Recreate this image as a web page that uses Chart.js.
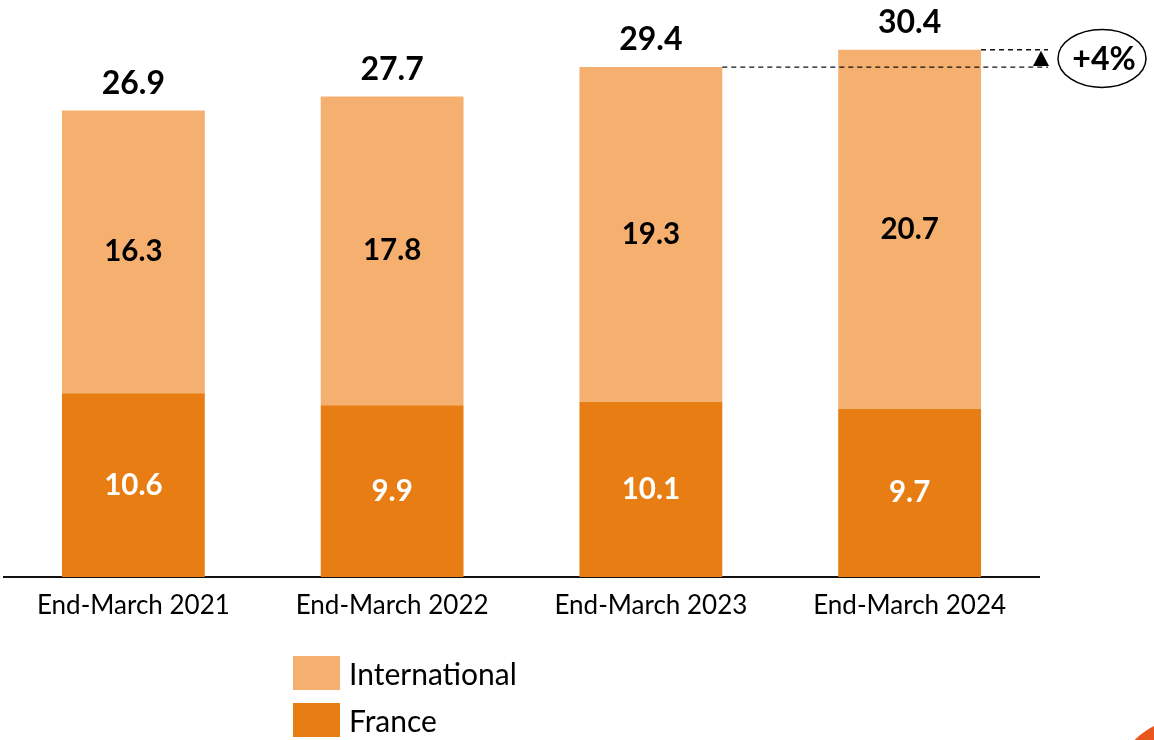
<!DOCTYPE html>
<html>
<head>
<meta charset="utf-8">
<script src="https://cdn.jsdelivr.net/npm/chart.js@4"></script>
<style>
  body { margin: 0; background: #fff; }
  #wrap { width: 1154px; height: 740px; }
</style>
</head>
<body>
<div id="wrap"><canvas id="chart" width="1154" height="740"></canvas></div>
<script>
const categories = ["End-March 2021", "End-March 2022", "End-March 2023", "End-March 2024"];
const france = [10.6, 9.9, 10.1, 9.7];
const international = [16.3, 17.8, 19.3, 20.7];
const totals = [26.9, 27.7, 29.4, 30.4];
const growthLabel = "+4%";

const FONT = "Lato, 'Open Sans', sans-serif";
const lightOrange = "#F5B070";
const darkOrange = "#E87E13";

// value labels inside segments and totals above bars
const labelsPlugin = {
    id: "labels",
    afterDatasetsDraw(chart) {
        const ctx = chart.ctx;
        ctx.save();
        ctx.textAlign = "center";
        ctx.textBaseline = "middle";
        chart.data.datasets.forEach((ds, i) => {
            const meta = chart.getDatasetMeta(i);
            meta.data.forEach((bar, j) => {
                const mid = (bar.y + bar.base) / 2;
                ctx.font = "bold 29.5px " + FONT;
                ctx.fillStyle = i === 0 ? "#ffffff" : "#000000";
                ctx.fillText(ds.data[j].toFixed(1), bar.x, mid);
            });
        });
        const top = chart.getDatasetMeta(1);
        top.data.forEach((bar, j) => {
            ctx.font = "bold 32px " + FONT;
            ctx.fillStyle = "#000000";
            ctx.fillText(totals[j].toFixed(1), bar.x, bar.y - 27);
        });
        ctx.restore();
    }
};

// dashed comparison lines, arrow and +4% bubble
const growthPlugin = {
    id: "growth",
    afterDraw(chart) {
        const ctx = chart.ctx;
        const meta = chart.getDatasetMeta(1);
        const b3 = meta.data[2];
        const b4 = meta.data[3];
        const w3 = b3.width / 2;
        const w4 = b4.width / 2;
        const endX = 1048;
        ctx.save();
        ctx.strokeStyle = "#111";
        ctx.lineWidth = 1.3;
        ctx.setLineDash([5, 4]);
        ctx.beginPath();
        ctx.moveTo(b3.x + w3, b3.y);
        ctx.lineTo(endX, b3.y);
        ctx.moveTo(b4.x + w4, b4.y);
        ctx.lineTo(endX, b4.y);
        ctx.stroke();
        ctx.setLineDash([]);
        // arrow head
        const ax = 1041;
        ctx.fillStyle = "#000";
        ctx.beginPath();
        ctx.moveTo(ax, b4.y + 1);
        ctx.lineTo(ax - 8, b3.y - 1);
        ctx.lineTo(ax + 8, b3.y - 1);
        ctx.closePath();
        ctx.fill();
        // ellipse
        const cx = 1102, cy = (b3.y + b4.y) / 2;
        ctx.lineWidth = 1.5;
        ctx.strokeStyle = "#000";
        ctx.beginPath();
        ctx.ellipse(cx, cy, 44, 29, 0, 0, Math.PI * 2);
        ctx.stroke();
        ctx.font = "bold 32px " + FONT;
        ctx.textAlign = "center";
        ctx.textBaseline = "middle";
        ctx.fillText(growthLabel, cx + 2, cy + 1);
        ctx.restore();
    }
};

// legend stacked vertically below the axis, plus the corner decoration
const legendPlugin = {
    id: "vlegend",
    afterDraw(chart) {
        const ctx = chart.ctx;
        ctx.save();
        const items = [
            { label: "International", color: lightOrange, y: 656 },
            { label: "France", color: darkOrange, y: 703 }
        ];
        ctx.font = "30px " + FONT;
        ctx.textBaseline = "middle";
        ctx.textAlign = "left";
        items.forEach((it) => {
            ctx.fillStyle = it.color;
            ctx.fillRect(293, it.y, 47, 34);
            ctx.fillStyle = "#000";
            ctx.fillText(it.label, 349, it.y + 19);
        });
        ctx.fillStyle = "#E8561E";
        ctx.beginPath();
        ctx.arc(1185, 790, 71, 0, Math.PI * 2);
        ctx.fill();
        ctx.restore();
    }
};

new Chart(document.getElementById("chart"), {
    type: "bar",
    data: {
        labels: categories,
        datasets: [
            {
                label: "France",
                data: france,
                backgroundColor: darkOrange,
                borderWidth: 0
            },
            {
                label: "International",
                data: international,
                backgroundColor: lightOrange,
                borderWidth: 0
            }
        ]
    },
    options: {
        responsive: false,
        animation: false,
        events: [],
        barPercentage: 0.552,
        categoryPercentage: 1,
        layout: {
            padding: { left: 4, right: 115, top: 22, bottom: 0 }
        },
        plugins: {
            legend: { display: false },
            tooltip: { enabled: false }
        },
        scales: {
            x: {
                stacked: true,
                grid: { display: false, drawTicks: false },
                border: { display: true, color: "#111", width: 2 },
                ticks: {
                    color: "#000",
                    padding: 13,
                    font: { family: FONT, size: 26 }
                },
                afterFit(scale) {
                    scale.height = 163;
                }
            },
            y: {
                stacked: true,
                display: false,
                min: 0,
                max: 32
            }
        }
    },
    plugins: [labelsPlugin, growthPlugin, legendPlugin]
});
</script>
</body>
</html>
